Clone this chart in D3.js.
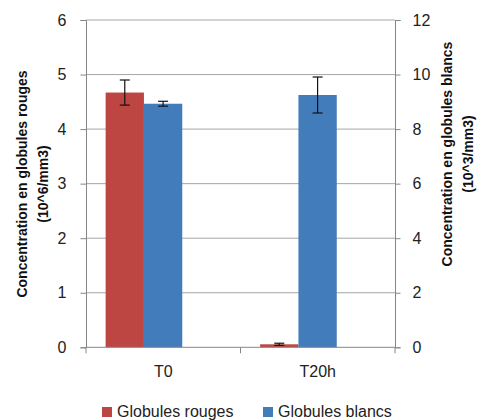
<!DOCTYPE html>
<html><head><meta charset="utf-8">
<script src="https://cdn.jsdelivr.net/npm/d3@7"></script>
<style>body{margin:0;background:#fff;} svg{display:block;font-family:"Liberation Sans",Arial,sans-serif;}</style>
</head><body><svg id="c" width="479" height="420"></svg>
<script>
const categories = ["T0", "T20h"];
const rouges = [4.67, 0.055];
const rougesErr = [0.23, 0.02];
const blancs = [8.93, 9.25];
const blancsErr = [0.09, 0.66];
const leftTicks = [0, 1, 2, 3, 4, 5, 6];
const rightTicks = [0, 2, 4, 6, 8, 10, 12];
const seriesNames = ["Globules rouges", "Globules blancs"];
const colors = ["#BE4642", "#437CBB"];

const svg = d3.select("#c");
const L = 86, R = 395, T = 20, B = 347.3;
const x = d3.scaleBand().domain(categories).range([L, R]);
const yL = d3.scaleLinear().domain([0, 6]).range([B, T]);
const yR = d3.scaleLinear().domain([0, 12]).range([B, T]);
const bw = x.bandwidth() * 0.248, off = x.bandwidth() * 0.127;

// gridlines
svg.append("g").selectAll("line").data(leftTicks.slice(1)).join("line")
  .attr("x1", L).attr("x2", R).attr("y1", d => yL(d)).attr("y2", d => yL(d))
  .attr("stroke", "#A6A6A6").attr("stroke-width", 1);

// bars
const red = categories.map((c, i) => ({c, v: rouges[i], e: rougesErr[i]}));
const blue = categories.map((c, i) => ({c, v: blancs[i], e: blancsErr[i]}));
svg.append("g").selectAll("rect").data(red).join("rect")
  .attr("x", d => x(d.c) + off).attr("width", bw)
  .attr("y", d => yL(d.v)).attr("height", d => B - yL(d.v)).attr("fill", colors[0]);
svg.append("g").selectAll("rect").data(blue).join("rect")
  .attr("x", d => x(d.c) + off + bw).attr("width", bw)
  .attr("y", d => yR(d.v)).attr("height", d => B - yR(d.v)).attr("fill", colors[1]);

// error bars
function err(data, y, dx) {
  const g = svg.append("g").attr("stroke", "#111").attr("stroke-width", 1.2);
  data.forEach(d => {
    const cx = x(d.c) + off + dx + bw / 2;
    g.append("line").attr("x1", cx).attr("x2", cx).attr("y1", y(d.v + d.e)).attr("y2", y(d.v - d.e));
    [d.v + d.e, d.v - d.e].forEach(v => g.append("line").attr("x1", cx - 5).attr("x2", cx + 5).attr("y1", y(v)).attr("y2", y(v)));
  });
}
err(red, yL, 0);
err(blue, yR, bw);

// axes
const ax = "#868686";
const gl = svg.append("g").attr("transform", `translate(${L},0)`).call(d3.axisLeft(yL).tickValues(leftTicks).tickFormat(d3.format("d")).tickSize(5.5).tickPadding(14));
const gr = svg.append("g").attr("transform", `translate(${R},0)`).call(d3.axisRight(yR).tickValues(rightTicks).tickFormat(d3.format("d")).tickSize(5.5).tickPadding(12));
const gb = svg.append("g").attr("transform", `translate(0,${B})`).call(d3.axisBottom(x).tickSize(0).tickPadding(18));
[gl, gr, gb].forEach(g => {
  g.select(".domain").attr("stroke", ax);
  g.selectAll(".tick line").attr("stroke", ax);
  g.selectAll("text").attr("font-size", 16).attr("fill", "#222").attr("font-family", "Liberation Sans, Arial, sans-serif");
});
gb.select(".domain").attr("d", `M${L},0H${R}`);
// category boundary ticks
svg.append("g").selectAll("line").data([L, x(categories[1]), R]).join("line")
  .attr("x1", d => d).attr("x2", d => d).attr("y1", B).attr("y2", B + 6).attr("stroke", ax);

// axis titles
function title(cx, cy, lines) {
  const t = svg.append("text").attr("transform", `translate(${cx},${cy}) rotate(-90)`)
    .attr("text-anchor", "middle").attr("font-weight", "bold").attr("font-size", 14).attr("fill", "#111");
  lines.forEach((s, i) => t.append("tspan").attr("x", 0).attr("dy", i ? 21 : 0).text(s));
}
title(27, 184, ["Concentration en globules rouges", "(10^6/mm3)"]);
title(452, 154, ["Concentration en globules blancs", "(10^3/mm3)"]);

// legend
const leg = svg.append("g");
[[102, 0], [263, 1]].forEach(([lx, i]) => {
  leg.append("rect").attr("x", lx).attr("y", 407).attr("width", 10).attr("height", 10).attr("fill", colors[i]);
  leg.append("text").attr("x", lx + 15).attr("y", 417).attr("font-size", 16).attr("fill", "#222").text(seriesNames[i]);
});
</script></body></html>
